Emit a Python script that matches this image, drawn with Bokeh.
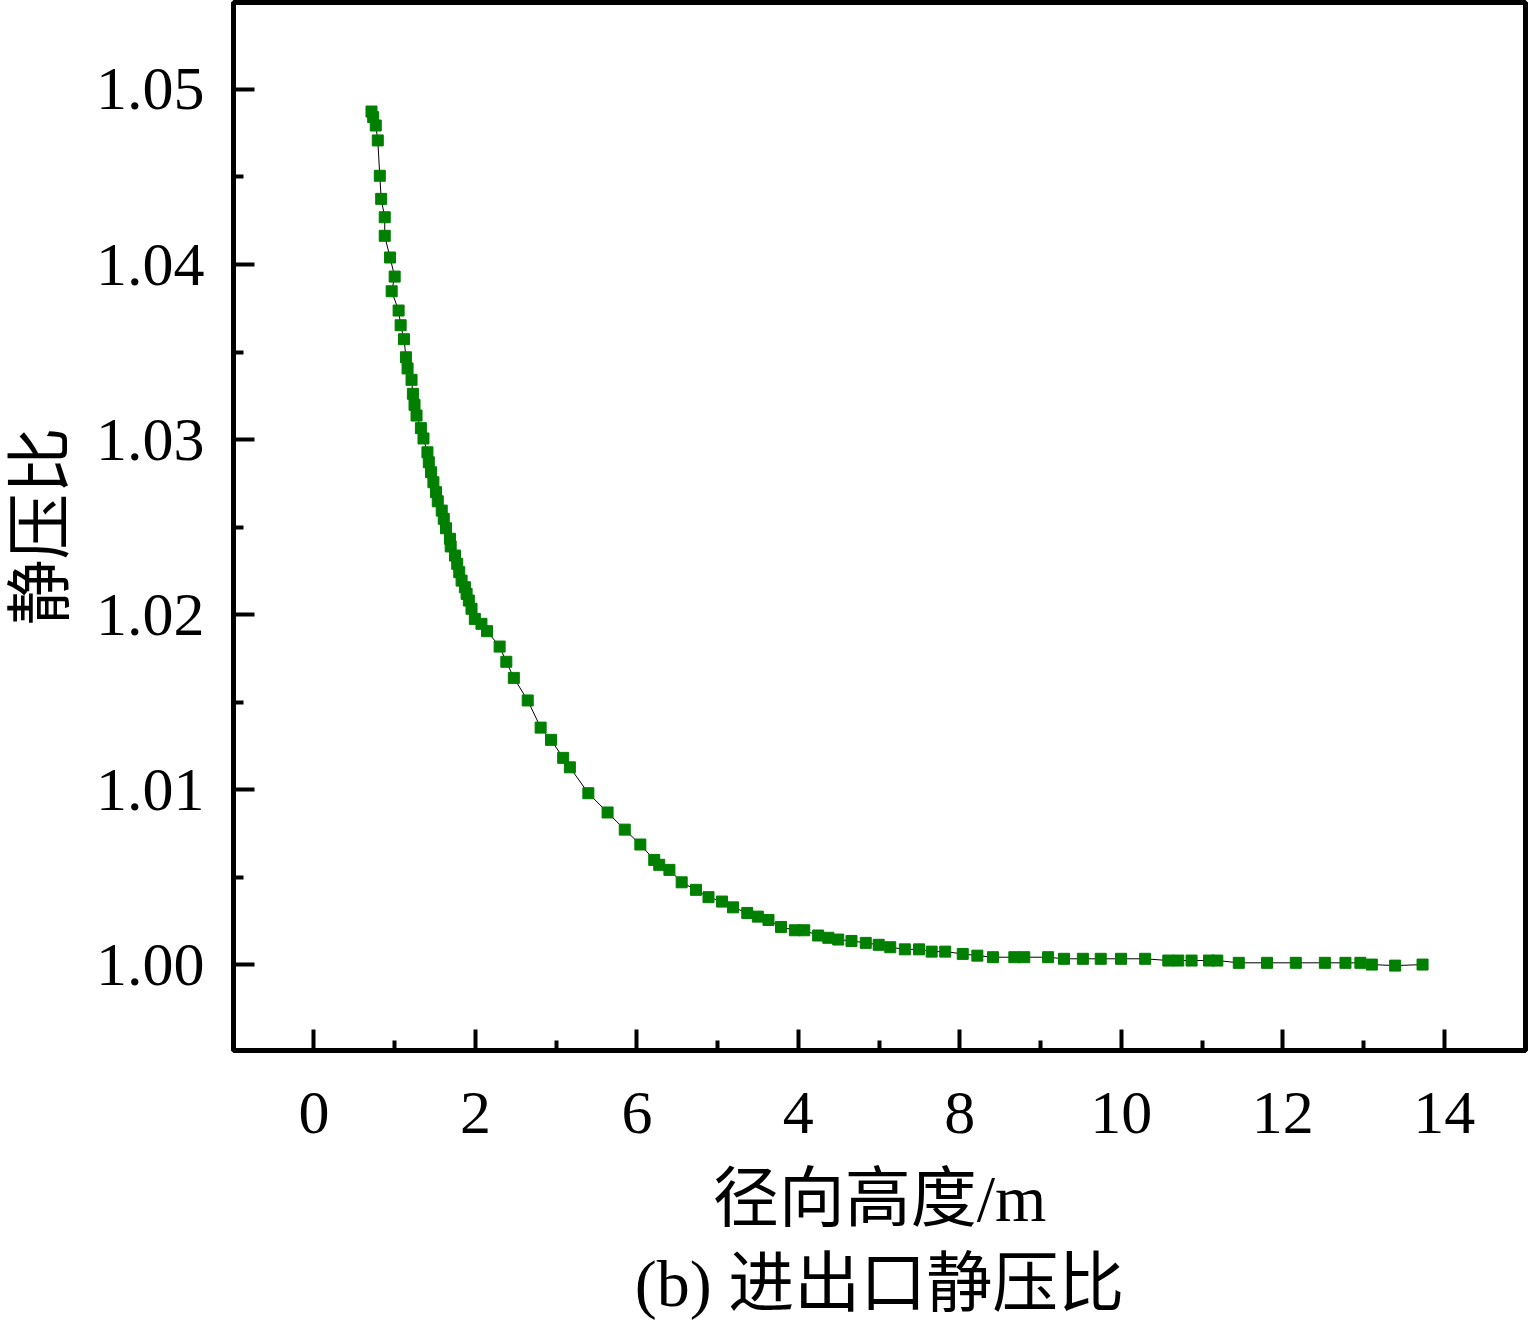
from bokeh.plotting import figure
from bokeh.models import FixedTicker, Range1d, Title, ColumnDataSource
from bokeh.embed import file_html
from bokeh.resources import INLINE

# radial height (m)
x_vals = [0.713, 0.734, 0.766, 0.791, 0.816, 0.833, 0.877, 0.877, 0.943, 1.000,
          0.963, 1.049, 1.074, 1.116, 1.140, 1.160, 1.209, 1.226, 1.246, 1.271,
          1.325, 1.357, 1.406, 1.423, 1.451, 1.480, 1.513, 1.534, 1.583, 1.608,
          1.636, 1.685, 1.694, 1.747, 1.775, 1.800, 1.829, 1.870, 1.891, 1.919,
          1.952, 1.993, 2.075, 2.144, 2.300, 2.383, 2.476, 2.648, 2.808, 2.936,
          3.087, 3.170, 3.399, 3.637, 3.850, 4.043, 4.215, 4.277, 4.403, 4.555,
          4.732, 4.887, 5.055, 5.191, 5.367, 5.498, 5.630, 5.785, 5.957, 6.073,
          6.245, 6.371, 6.494, 6.658, 6.835, 6.995, 7.138, 7.319, 7.494, 7.651,
          7.819, 8.036, 8.217, 8.410, 8.675, 8.798, 9.093, 9.290, 9.524, 9.745,
          9.996, 10.295, 10.582, 10.705, 10.870, 11.086, 11.189, 11.455, 11.804, 12.161,
          12.521, 12.776, 12.961, 13.103, 13.391, 13.731]

# static pressure ratio
y_vals = [1.04874, 1.04842, 1.04794, 1.04709, 1.04507, 1.04375, 1.04270, 1.04164, 1.04040, 1.03931,
          1.03847, 1.03737, 1.03653, 1.03573, 1.03470, 1.03406, 1.03341, 1.03261, 1.03198, 1.03137,
          1.03065, 1.03006, 1.02927, 1.02870, 1.02813, 1.02756, 1.02699, 1.02647, 1.02594, 1.02547,
          1.02493, 1.02433, 1.02389, 1.02337, 1.02290, 1.02242, 1.02194, 1.02156, 1.02118, 1.02080,
          1.02033, 1.01975, 1.01947, 1.01905, 1.01817, 1.01730, 1.01638, 1.01509, 1.01354, 1.01284,
          1.01181, 1.01127, 1.00979, 1.00869, 1.00771, 1.00686, 1.00598, 1.00570, 1.00541, 1.00470,
          1.00427, 1.00385, 1.00360, 1.00327, 1.00295, 1.00274, 1.00255, 1.00215, 1.00196, 1.00196,
          1.00166, 1.00153, 1.00143, 1.00135, 1.00124, 1.00113, 1.00099, 1.00087, 1.00087, 1.00074,
          1.00074, 1.00061, 1.00051, 1.00042, 1.00042, 1.00042, 1.00042, 1.00033, 1.00033, 1.00033,
          1.00033, 1.00033, 1.00023, 1.00023, 1.00023, 1.00023, 1.00023, 1.00010, 1.00010, 1.00010,
          1.00010, 1.00010, 1.00010, 1.00000, 0.99994, 1.00000]

x_ticks = [0, 2, 4, 6, 8, 10, 12, 14]
x_tick_labels = ["0", "2", "6", "4", "8", "10", "12", "14"]
x_minor = [-1, 1, 3, 5, 7, 9, 11, 13, 15]
y_ticks = [1.00, 1.01, 1.02, 1.03, 1.04, 1.05]
y_minor = [0.995, 1.005, 1.015, 1.025, 1.035, 1.045, 1.055]

x_label = "径向高度/m"
y_label = "静压比"
caption = "(b) 进出口静压比"

SERIF = "Liberation Serif"
MIXED = "Liberation Serif, Noto Sans CJK SC"

p = figure(width=1528, height=1329, output_backend="svg", toolbar_location=None,
           x_range=Range1d(-0.996, 15.006), y_range=Range1d(0.99509, 1.05497),
           min_border_left=232, min_border_right=3, min_border_top=2,
           min_border_bottom=279)

p.background_fill_color = "white"
p.border_fill_color = "white"
p.grid.visible = False
p.outline_line_color = "black"
p.outline_line_width = 5

src = ColumnDataSource(dict(x=x_vals, y=y_vals))
p.line("x", "y", source=src, line_color="black", line_width=1)
p.scatter("x", "y", source=src, marker="square", size=11,
          fill_color="#007f00", line_color="#007f00")

for ax in (p.xaxis[0], p.yaxis[0]):
    ax.axis_line_width = 5
    ax.axis_line_color = "black"
    ax.major_tick_in = 21
    ax.major_tick_out = 0
    ax.minor_tick_in = 10
    ax.minor_tick_out = 0
    ax.major_tick_line_width = 4
    ax.minor_tick_line_width = 4
    ax.major_label_text_font = SERIF
    ax.major_label_text_font_size = "62px"
    ax.major_label_text_color = "black"
    ax.axis_label_text_font = MIXED
    ax.axis_label_text_font_size = "66px"
    ax.axis_label_text_font_style = "normal"
    ax.axis_label_text_color = "black"

p.xaxis.ticker = FixedTicker(ticks=x_ticks, minor_ticks=x_minor)
p.xaxis.major_label_overrides = {t: s for t, s in zip(x_ticks, x_tick_labels)}
p.xaxis.major_label_standoff = 42
p.xaxis.axis_label = x_label
p.xaxis.axis_label_standoff = 26

p.yaxis.ticker = FixedTicker(ticks=y_ticks, minor_ticks=y_minor)
p.yaxis.major_label_overrides = {t: f"{t:.2f}" for t in y_ticks}
p.yaxis.major_label_standoff = 29
p.yaxis.axis_label = y_label
p.yaxis.axis_label_standoff = 16

cap = Title(text=caption, align="center", text_font=MIXED, text_font_size="66px",
            text_font_style="normal", text_color="black", standoff=14)
p.add_layout(cap, "below")

open("out.html", "w").write(file_html(p, INLINE))
